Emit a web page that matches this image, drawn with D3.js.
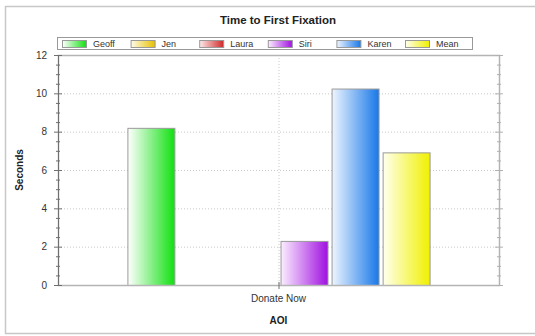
<!DOCTYPE html>
<html>
<head>
<meta charset="utf-8">
<script src="https://cdn.jsdelivr.net/npm/d3@7"></script>
<style>
  html, body { margin: 0; padding: 0; background: #fff; }
  svg { display: block; font-family: "Liberation Sans", Arial, sans-serif; }
</style>
</head>
<body>
<svg id="chart" width="535" height="336"></svg>
<script>
// Time to first fixation per participant, one AOI
const categories = ["Donate Now"];
const seriesNames = ["Geoff", "Jen", "Laura", "Siri", "Karen", "Mean"];
const geoff = [8.2];
const jen = [0];
const laura = [0];
const siri = [2.3];
const karen = [10.25];
const mean = [6.92];
const yTicks = [0, 2, 4, 6, 8, 10, 12];

const values = [geoff, jen, laura, siri, karen, mean];
// gradient stops: light left edge -> saturated right edge
const colorsLight = ["#ffffff", "#fffbe8", "#ffeaea", "#fbeeff", "#eef5ff", "#ffffee"];
const colorsDark  = ["#10e010", "#e8c000", "#d02828", "#a010e0", "#1878e8", "#f0f000"];

const svg = d3.select("#chart");
const defs = svg.append("defs");
seriesNames.forEach((s, i) => {
  const g = defs.append("linearGradient").attr("id", "grad" + i)
    .attr("x1", "0%").attr("x2", "100%").attr("y1", "0%").attr("y2", "0%");
  g.append("stop").attr("offset", "0%").attr("stop-color", colorsLight[i]);
  g.append("stop").attr("offset", "100%").attr("stop-color", colorsDark[i]);
});

// outer frame
svg.append("path")
  .attr("d", "M540,6.5 H5.5 V333.5 H540")
  .attr("fill", "none").attr("stroke", "#c8c8c8").attr("stroke-width", 1.5);

const plot = { left: 58, right: 499, top: 55, bottom: 285 };

const y = d3.scaleLinear().domain([0, 12]).range([plot.bottom, plot.top]);
const x0 = d3.scaleBand().domain(categories).range([plot.left, plot.right]);
const x1 = d3.scaleBand().domain(seriesNames).range([0, x0.bandwidth()])
  .paddingInner(0.08).paddingOuter(1.36);

// grid
const grid = svg.append("g");
grid.selectAll("line.h").data(yTicks.filter(t => t > 0 && t < 12)).join("line")
  .attr("x1", plot.left).attr("x2", plot.right)
  .attr("y1", d => y(d) + 0.5).attr("y2", d => y(d) + 0.5)
  .attr("stroke", "#c8c8c8").attr("stroke-dasharray", "1,2");
grid.selectAll("line.v").data(categories).join("line")
  .attr("x1", d => x0(d) + x0.bandwidth() / 2 + 0.5)
  .attr("x2", d => x0(d) + x0.bandwidth() / 2 + 0.5)
  .attr("y1", plot.top).attr("y2", plot.bottom)
  .attr("stroke", "#c8c8c8").attr("stroke-dasharray", "1,2");

// bars
const bars = svg.append("g");
categories.forEach((c, ci) => {
  bars.selectAll(null).data(seriesNames.map((s, i) => ({ s, i, v: values[i][ci] })))
    .join("rect")
    .attr("x", d => x0(c) + x1(d.s) + 0.5)
    .attr("y", d => y(d.v) + 0.5)
    .attr("width", x1.bandwidth())
    .attr("height", d => y(0) - y(d.v))
    .attr("fill", d => `url(#grad${d.i})`)
    .attr("stroke", d => d.v > 0 ? "#9a9a9a" : "none")
    .attr("stroke-width", 1);
});

// plot frame
svg.append("rect")
  .attr("x", plot.left + 0.5).attr("y", plot.top + 0.5)
  .attr("width", plot.right - plot.left).attr("height", plot.bottom - plot.top)
  .attr("fill", "none").attr("stroke", "#b4b4b4").attr("stroke-width", 1.5);

// y axes with major/minor ticks crossing the axis line
const minor = d3.range(0, 12.01, 0.5);
[plot.left, plot.right].forEach((ax, k) => {
  const g = svg.append("g");
  g.append("line").attr("x1", ax + 0.5).attr("x2", ax + 0.5)
    .attr("y1", plot.top).attr("y2", plot.bottom)
    .attr("stroke", k === 0 ? "#707070" : "#b4b4b4").attr("stroke-width", 1);
  g.selectAll("line.m").data(minor).join("line")
    .attr("x1", d => ax - (yTicks.includes(d) ? 4 : 2))
    .attr("x2", d => ax + (yTicks.includes(d) ? 4 : 2))
    .attr("y1", d => y(d) + 0.5).attr("y2", d => y(d) + 0.5)
    .attr("stroke", k === 0 ? "#707070" : "#b0b0b0").attr("stroke-width", 1);
});

svg.append("g").selectAll("text").data(yTicks).join("text")
  .attr("x", 47).attr("y", d => y(d) + 3.5)
  .attr("text-anchor", "end").attr("font-size", 10).attr("fill", "#333")
  .text(d => d);

// x axis category tick and label
categories.forEach(c => {
  const cx = x0(c) + x0.bandwidth() / 2;
  svg.append("line").attr("x1", cx + 0.5).attr("x2", cx + 0.5)
    .attr("y1", plot.bottom - 3).attr("y2", plot.bottom + 4)
    .attr("stroke", "#707070");
  svg.append("text").attr("x", cx).attr("y", 302)
    .attr("text-anchor", "middle").attr("font-size", 10).attr("fill", "#333")
    .text(c);
});

// axis titles
svg.append("text").attr("x", x0.range()[0] + (plot.right - plot.left) / 2).attr("y", 324)
  .attr("text-anchor", "middle").attr("font-size", 10).attr("font-weight", "bold")
  .attr("fill", "#222").text("AOI");
svg.append("text").attr("transform", "translate(23,170) rotate(-90)")
  .attr("text-anchor", "middle").attr("font-size", 10).attr("font-weight", "bold")
  .attr("fill", "#222").text("Seconds");

// title
svg.append("text").attr("x", 278).attr("y", 24)
  .attr("text-anchor", "middle").attr("font-size", 11.5).attr("font-weight", "bold")
  .attr("fill", "#222").text("Time to First Fixation");

// legend
const legend = svg.append("g");
legend.append("rect").attr("x", 57.5).attr("y", 37.5).attr("width", 415).attr("height", 12)
  .attr("fill", "#fff").attr("stroke", "#999").attr("stroke-width", 1);
const lx = d3.scalePoint().domain(seriesNames).range([62, 405]);
const items = legend.selectAll("g.item").data(seriesNames).join("g")
  .attr("transform", d => `translate(${lx(d)},0)`);
items.append("rect").attr("x", 0.5).attr("y", 40.5).attr("width", 24).attr("height", 7)
  .attr("fill", (d, i) => `url(#grad${i})`).attr("stroke", "#999");
items.append("text").attr("x", 31).attr("y", 47)
  .attr("font-size", 9).attr("fill", "#333").text(d => d);
</script>
</body>
</html>
